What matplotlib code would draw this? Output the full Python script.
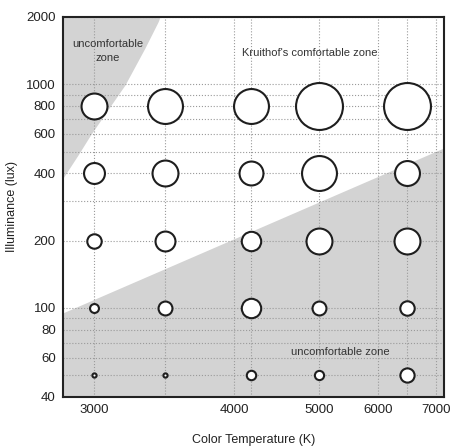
import numpy as np
import matplotlib
matplotlib.use('Agg')
import matplotlib.pyplot as plt
from matplotlib.ticker import FixedLocator, NullFormatter

plt.rcParams['font.family'] = ['Liberation Sans', 'DejaVu Sans']

# data
temps = [3000, 3500, 4100, 5000, 6500]
lux = [800, 400, 200, 100, 50]
# bubble diameters (one row per illuminance level)
bubble = [[28, 37, 37, 49, 49],
          [23, 28, 26, 37, 27],
          [16.5, 22, 21.5, 28, 28],
          [11, 16, 21.5, 16, 16.5],
          [6.3, 6.3, 11.5, 11.3, 16.3]]

x_ticks = [3000, 4000, 5000, 6000, 7000]
x_grid = [3000, 3500, 4000, 4100, 5000, 6000, 6500, 7000]
y_ticks = [40, 60, 80, 100, 200, 400, 600, 800, 1000, 2000]
y_grid = [50, 60, 70, 80, 90, 100, 200, 300, 400, 500, 600, 700, 800, 900, 1000]

# zone boundaries
upper_T = [2800, 2898, 2974, 3106, 3218, 3359, 3451, 3465]
upper_lux = [379, 483, 588, 784, 993, 1454, 1900, 2000]
lower_T = [2800, 7100]
lower_lux = [95, 520]

# the original x axis is hand drawn, so use a piecewise scale
knot_T = [1000, 2800, 3000, 3500, 4000, 4100, 5000, 6000, 6500, 7000, 7100, 20000]
knot_u = [-219, 62.7, 94, 165, 234, 251, 319, 378, 407, 436, 444, 1476]


def fwd(t):
    return np.interp(t, knot_T, knot_u)


def inv(u):
    return np.interp(u, knot_u, knot_T)


fig = plt.figure(figsize=(4.53, 4.46), dpi=100)
ax = fig.add_axes([0.1384, 0.1099, 0.980 - 0.1384, 0.9619 - 0.1099])
ax.set_xscale('function', functions=(fwd, inv))
ax.set_yscale('log')
ax.set_xlim(2800, 7100)
ax.set_ylim(40, 2000)

gray = '#d3d3d3'
ax.fill_between(upper_T, upper_lux, 2000, color=gray, lw=0, zorder=1)
ax.fill_between(lower_T, 40, lower_lux, color=gray, lw=0, zorder=1)

# grid
ax.set_xticks(x_ticks, labels=[str(v) for v in x_ticks])
ax.xaxis.set_minor_locator(FixedLocator(x_grid))
ax.xaxis.set_minor_formatter(NullFormatter())
ax.set_yticks(y_ticks, labels=[str(v) for v in y_ticks])
ax.yaxis.set_minor_locator(FixedLocator(y_grid))
ax.yaxis.set_minor_formatter(NullFormatter())
ax.grid(which='both', linestyle=':', color='#9a9a9a', linewidth=0.8, zorder=2)
ax.set_axisbelow(False)
ax.tick_params(which='both', length=0, pad=5, labelsize=9.5, colors='#222222')

px = 0.72  # points per pixel at 100 dpi
mew = 1.5
for i, l in enumerate(lux):
    for j, t in enumerate(temps):
        ax.plot(t, l, 'o', ms=bubble[i][j] * px - mew, mfc='white',
                mec='#1e1e1e', mew=mew, zorder=3)

ax.text(3099, 1410, 'uncomfortable\nzone', ha='center', va='center',
        fontsize=8, color='#333333', linespacing=1.45, zorder=4)
ax.text(4881, 1380, "Kruithof's comfortable zone", ha='center', va='center',
        fontsize=8, color='#333333', zorder=4)
ax.text(5356, 63.6, 'uncomfortable zone', ha='center', va='center',
        fontsize=8, color='#333333', zorder=4)

for s in ax.spines.values():
    s.set_linewidth(1.5)
    s.set_color('#222222')
    s.set_zorder(5)

ax.set_xlabel('Color Temperature (K)', fontsize=9, labelpad=13, color='#222222')
ax.set_ylabel('Illuminance (lux)', fontsize=9, labelpad=6, color='#222222')

fig.savefig('out.png', dpi=100)
